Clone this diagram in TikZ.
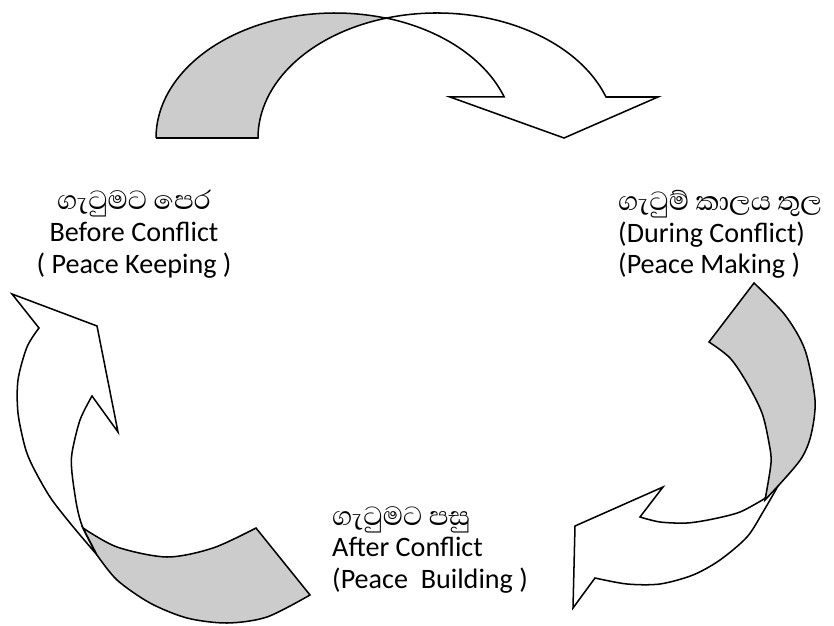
\documentclass[tikz,border=0pt]{standalone}
\usepackage{fontspec}
\setmainfont{Carlito}
\newfontfamily\sinhala[Script=Sinhala,Scale=1.2]{Abhaya Libre}
\usetikzlibrary{positioning}

\tikzset{
  band/.style={draw=black, line width=1.3pt, line join=miter, fill=white},
  backside/.style={band, fill=black!20},
  stagetext/.style={font=\fontsize{24}{27}\selectfont, inner sep=0pt},
}

\begin{document}
\begin{tikzpicture}[x={(0.03cm,0)}, y={(0,-0.03cm)}]
  \useasboundingbox (0,0) rectangle (834,626);

  % top arrow
  \coordinate (top1) at (386,18);
  \filldraw[backside] (156,138) -- (258,138)
    arc[start angle=180, end angle=253.45, x radius=179, y radius=125]
    arc[start angle=286.55, end angle=180, x radius=179, y radius=125] -- cycle;
  \filldraw[band] (top1)
    arc[start angle=286.55, end angle=340.85, x radius=179, y radius=125]
    -- (450,97) -- (564,138) -- (658,97) -- (606,97)
    arc[start angle=340.85, end angle=253.45, x radius=179, y radius=125] -- cycle;

  % right arrow
  \coordinate (right1) at (778,486);
  \filldraw[band] (right1)
    -- plot[smooth] coordinates {(778,486) (763,512) (747,537) (720,560) (693,575) (660,584) (627,584) (595,578)}
    -- (573,608) -- (575,526) -- (663,487) -- (640,517)
    -- plot[smooth] coordinates {(640,517) (660,522) (687,523) (713,519) (740,512) (764,499)} -- cycle;
  \filldraw[backside] (754,283)
    -- plot[smooth] coordinates {(754,283) (785,315) (805,350) (815,400) (811,435) (801,459) (778,486)}
    -- (765,500)
    -- plot[smooth] coordinates {(765,500) (771,463) (769,443) (762,413) (747,383) (730,358) (709,342)} -- cycle;

  % left arrow
  \coordinate (left1) at (97,555);
  \filldraw[band] (39,328) -- (12,294) -- (97,326) -- (118,432) -- (92,396)
    -- plot[smooth] coordinates {(92,396) (80,420) (72,453) (72,473) (77,507) (83,528) (97,555)}
    -- plot[smooth] coordinates {(97,555) (70,523) (50,497) (33,467) (25,447) (18,413) (18,380) (27,347) (39,328)} -- cycle;
  \filldraw[backside] (83,528)
    -- plot[smooth] coordinates {(83,528) (117,547) (167,557) (213,548) (256,528)}
    -- (310,595)
    -- plot[smooth] coordinates {(310,595) (267,617) (227,623) (187,618) (150,603) (117,580) (left1)} -- cycle;

  % stage texts
  \node[stagetext, align=center, anchor=north] (before) at (134,190)
    {{\sinhala ගැටුමට පෙර}\\Before Conflict\\( Peace Keeping )};
  \node[stagetext, align=left, anchor=north west] (during) at (618,190)
    {{\sinhala ගැටුම් කාලය තුල}\\(During Conflict)\\(Peace Making )};
  \node[stagetext, align=left, anchor=north west] (after) at (332,506)
    {{\sinhala ගැටුමට පසු}\\After Conflict\\(Peace\ \ Building )};
\end{tikzpicture}
\end{document}
